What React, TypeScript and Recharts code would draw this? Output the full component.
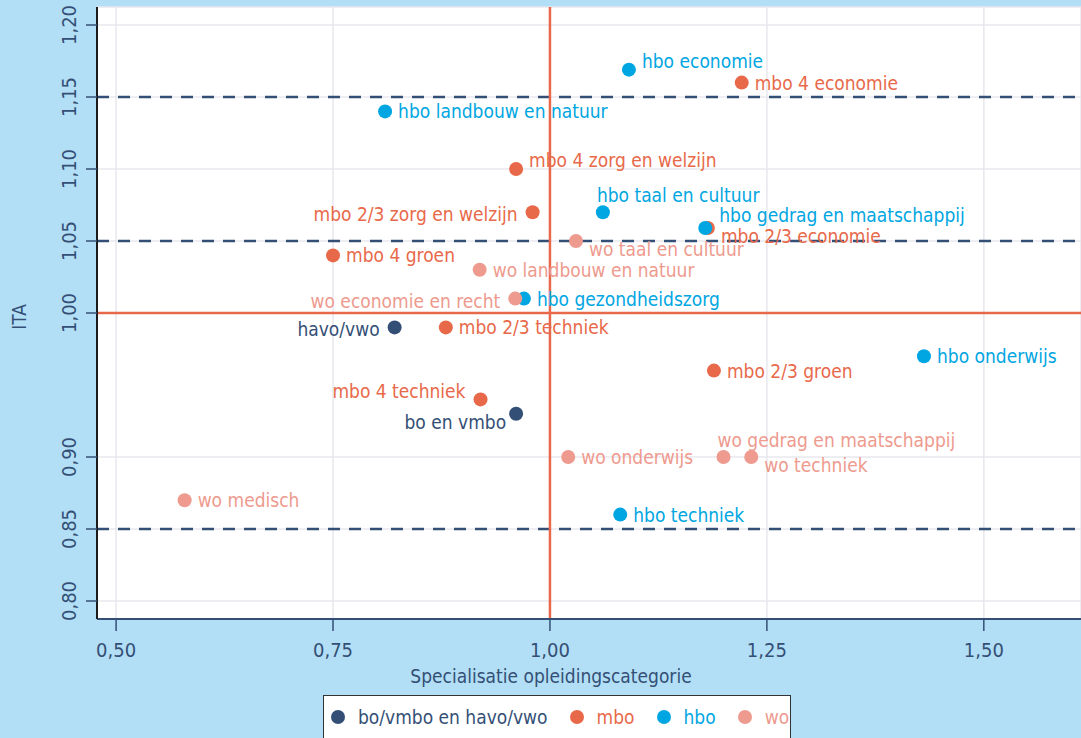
import React from 'react';
import {
  ScatterChart,
  Scatter,
  XAxis,
  YAxis,
  CartesianGrid,
  ReferenceLine,
  Label,
} from 'recharts';

const FONT = '"Liberation Sans Narrow", "DejaVu Sans Condensed", "Roboto", sans-serif';
const BG = '#b2dff5';
const NAVY = '#344f76';
const MBO = '#e8694a';
const HBO = '#00a6e2';
const WO = '#ee9a8e';
const FS = 19;

const X_TICKS = [0.5, 0.75, 1, 1.25, 1.5];
const Y_TICKS = [0.8, 0.85, 0.9, 1.0, 1.05, 1.1, 1.15, 1.2];
const DASHED_Y = [1.15, 1.05, 0.85];

// bo/vmbo en havo/vwo
const boNames = ['havo/vwo', 'bo en vmbo'];
const boSpec = [0.821, 0.961];
const boIta = [0.99, 0.93];

// mbo
const mboNames = [
  'mbo 4 economie',
  'mbo 4 zorg en welzijn',
  'mbo 2/3 zorg en welzijn',
  'mbo 2/3 economie',
  'mbo 4 groen',
  'mbo 2/3 techniek',
  'mbo 2/3 groen',
  'mbo 4 techniek',
];
const mboSpec = [1.221, 0.961, 0.98, 1.182, 0.75, 0.88, 1.189, 0.92];
const mboIta = [1.16, 1.1, 1.07, 1.059, 1.04, 0.99, 0.96, 0.94];

// hbo
const hboNames = [
  'hbo economie',
  'hbo landbouw en natuur',
  'hbo taal en cultuur',
  'hbo gedrag en maatschappij',
  'hbo gezondheidszorg',
  'hbo onderwijs',
  'hbo techniek',
];
const hboSpec = [1.091, 0.81, 1.061, 1.179, 0.97, 1.431, 1.081];
const hboIta = [1.169, 1.14, 1.07, 1.059, 1.01, 0.97, 0.86];

// wo
const woNames = [
  'wo taal en cultuur',
  'wo landbouw en natuur',
  'wo economie en recht',
  'wo onderwijs',
  'wo gedrag en maatschappij',
  'wo techniek',
  'wo medisch',
];
const woSpec = [1.03, 0.919, 0.96, 1.021, 1.2, 1.232, 0.579];
const woIta = [1.05, 1.03, 1.01, 0.9, 0.9, 0.9, 0.87];

// where the label sits relative to its dot
const labelSide: Record<string, string> = {
  'hbo economie': 'ru',
  'mbo 4 zorg en welzijn': 'ru',
  'mbo 2/3 zorg en welzijn': 'l',
  'hbo taal en cultuur': 'u',
  'hbo gedrag en maatschappij': 'ruu',
  'mbo 2/3 economie': 'rd',
  'wo taal en cultuur': 'rd',
  'wo economie en recht': 'l',
  'havo/vwo': 'l',
  'mbo 4 techniek': 'lu',
  'bo en vmbo': 'ld',
  'wo gedrag en maatschappij': 'u',
  'wo techniek': 'rd',
};

const SIDES: Record<string, { dx: number; dy: number; anchor: 'start' | 'end' }> = {
  r: { dx: 13, dy: 7, anchor: 'start' },
  ru: { dx: 13, dy: -2, anchor: 'start' },
  ruu: { dx: 14, dy: -6, anchor: 'start' },
  rd: { dx: 13, dy: 15, anchor: 'start' },
  l: { dx: -15, dy: 9, anchor: 'end' },
  lu: { dx: -15, dy: -1, anchor: 'end' },
  ld: { dx: -10, dy: 15, anchor: 'end' },
  u: { dx: -6, dy: -10, anchor: 'start' },
};

const toPoints = (names: string[], xs: number[], ys: number[]) =>
  names.map((name, i) => ({ name, x: xs[i], y: ys[i] }));

const SERIES = [
  { key: 'bo', label: 'bo/vmbo en havo/vwo', color: NAVY, data: toPoints(boNames, boSpec, boIta) },
  { key: 'mbo', label: 'mbo', color: MBO, data: toPoints(mboNames, mboSpec, mboIta) },
  { key: 'hbo', label: 'hbo', color: HBO, data: toPoints(hboNames, hboSpec, hboIta) },
  { key: 'wo', label: 'wo', color: WO, data: toPoints(woNames, woSpec, woIta) },
];

const fmt = (v: number) => v.toFixed(2).replace('.', ',');

function makeDot(color: string) {
  return (props: any) => {
    const { cx, cy, payload } = props;
    const s = SIDES[labelSide[payload.name] ?? 'r'];
    return (
      <g>
        <circle cx={cx} cy={cy} r={7} fill={color} />
        <text
          x={cx + s.dx}
          y={cy + s.dy}
          textAnchor={s.anchor}
          fill={color}
          fontSize={FS}
          fontFamily={FONT}
        >
          {payload.name}
        </text>
      </g>
    );
  };
}

function YTick(props: any) {
  const { x, y, payload } = props;
  return (
    <text
      x={x}
      y={y}
      transform={`rotate(-90 ${x} ${y})`}
      textAnchor="middle"
      fill={NAVY}
      fontSize={20}
      fontFamily={FONT}
    >
      {fmt(payload.value)}
    </text>
  );
}

export default function App() {
  return (
    <div
      style={{
        position: 'absolute',
        left: 0,
        top: 0,
        width: 1081,
        height: 738,
        background: BG,
        overflow: 'hidden',
        fontFamily: FONT,
      }}
    >
      <ScatterChart width={1081} height={738} margin={{ top: 7, right: 0, bottom: 0, left: 0 }}>
        <CartesianGrid stroke="#e7e7ee" strokeWidth={1.5} fill="#ffffff" />
        <XAxis
          type="number"
          dataKey="x"
          domain={[0.478, 1.612]}
          ticks={X_TICKS}
          allowDataOverflow
          height={119}
          tickSize={12}
          tickMargin={12}
          tickFormatter={fmt}
          tick={{ fill: NAVY, fontSize: 20, fontFamily: FONT }}
          axisLine={{ stroke: NAVY, strokeWidth: 2 }}
          tickLine={{ stroke: NAVY, strokeWidth: 1.5 }}
        >
          <Label
            content={({ viewBox }: any) => (
              <text
                x={551}
                y={viewBox.y + 64}
                textAnchor="middle"
                fill={NAVY}
                fontSize={FS}
                fontFamily={FONT}
              >
                Specialisatie opleidingscategorie
              </text>
            )}
          />
        </XAxis>
        <YAxis
          type="number"
          dataKey="y"
          domain={[0.7875, 1.2125]}
          ticks={Y_TICKS}
          allowDataOverflow
          width={97}
          tickSize={11}
          tickMargin={10}
          tick={<YTick />}
          axisLine={{ stroke: '#1b1b1b', strokeWidth: 2 }}
          tickLine={{ stroke: NAVY, strokeWidth: 1.5 }}
        >
          <Label
            content={({ viewBox }: any) => (
              <text
                x={26}
                y={viewBox.y + viewBox.height / 2 + 4}
                transform={`rotate(-90 26 ${viewBox.y + viewBox.height / 2 + 4})`}
                textAnchor="middle"
                fill={NAVY}
                fontSize={FS}
                fontFamily={FONT}
              >
                ITA
              </text>
            )}
          />
        </YAxis>
        {DASHED_Y.map((v) => (
          <ReferenceLine
            key={v}
            y={v}
            stroke={NAVY}
            strokeWidth={2.5}
            strokeDasharray="12 9"
          />
        ))}
        <ReferenceLine x={1} stroke={MBO} strokeWidth={2.5} />
        <ReferenceLine y={1} stroke={MBO} strokeWidth={2.5} />
        {SERIES.map((s) => (
          <Scatter
            key={s.key}
            name={s.label}
            data={s.data}
            fill={s.color}
            shape={makeDot(s.color)}
            isAnimationActive={false}
          />
        ))}
      </ScatterChart>
      <div
        style={{
          position: 'absolute',
          left: 323,
          top: 695,
          width: 468,
          height: 60,
          background: '#fff',
          border: '1.5px solid #333',
          display: 'flex',
          alignItems: 'flex-start',
          paddingTop: 9,
          boxSizing: 'border-box',
          whiteSpace: 'nowrap',
        }}
      >
        {SERIES.map((s, i) => (
          <div
            key={s.key}
            style={{
              display: 'flex',
              alignItems: 'center',
              marginLeft: i === 0 ? 7 : 22,
              color: s.color,
              fontSize: FS,
              lineHeight: '24px',
            }}
          >
            <span
              style={{
                display: 'inline-block',
                width: 14,
                height: 14,
                borderRadius: 7,
                background: s.color,
                marginRight: 13,
              }}
            />
            {s.label}
          </div>
        ))}
      </div>
    </div>
  );
}
